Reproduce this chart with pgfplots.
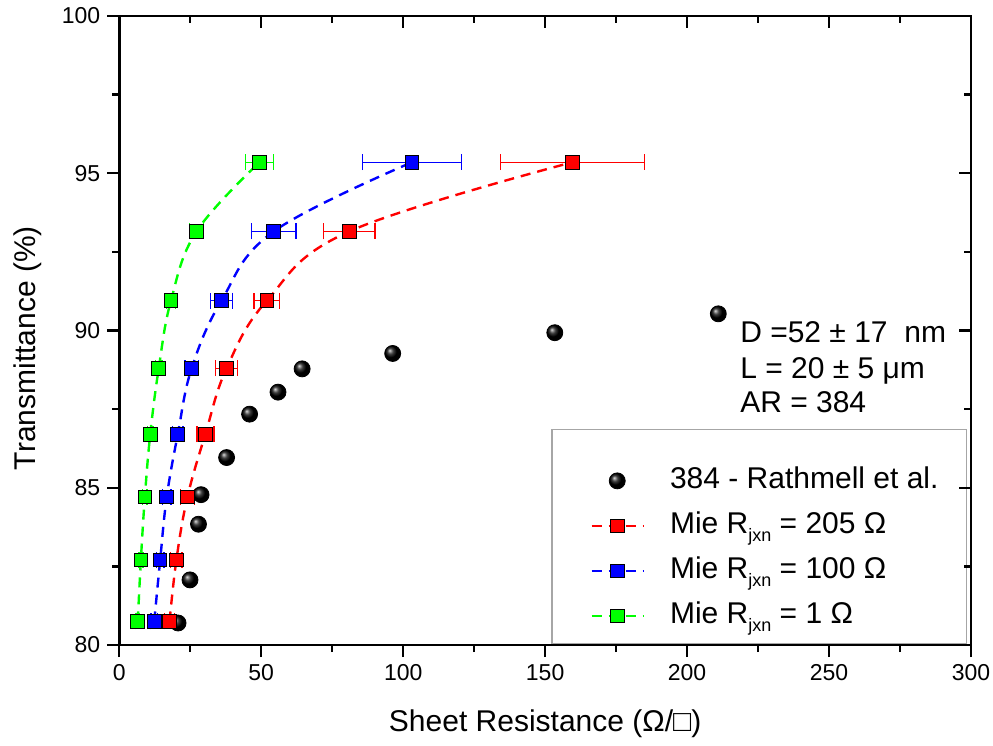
\documentclass[border=0pt]{standalone}
\usepackage{pgfplots}
\pgfplotsset{compat=1.18}
\usepackage{fontspec}
\setmainfont{Liberation Sans}
\definecolor{ored}{RGB}{255,0,0}
\definecolor{oblue}{RGB}{0,0,255}
\definecolor{ogreen}{RGB}{0,255,0}
\pgfdeclareplotmark{ball}{\shade[ball color=black] (0pt,0pt) circle (\pgfplotmarksize);}
\newcommand{\jxn}{\raisebox{-4.2pt}{\fontsize{9}{9}\selectfont jxn}}
\begin{document}
\begin{tikzpicture}
\pgfplotsset{
  common/.style={
    at={(0,0)}, anchor=south west, scale only axis,
    width=425.85pt, height=314.5pt,
    xmin=0, xmax=300, ymin=80, ymax=100,
    xtick={0,50,...,300}, ytick={80,85,...,100},
    minor x tick num=1, minor y tick num=1,
    major tick length=6pt, minor tick length=3.5pt,
    every tick/.style={black, line width=1.2pt},
    axis line style={line width=1.3pt},
  },
  sq/.style={dashed, dash pattern=on 5pt off 3.5pt, line width=1.2pt, smooth, tension=0.65,
    mark=square*, mark size=3.4pt, mark options={solid, draw=black, line width=0.5pt, fill=#1}, color=#1},
  eb/.style={forget plot, only marks, mark=none, color=#1,
    error bars/.cd, x dir=both, x explicit, error mark=|,
    error bar style={line width=0.7pt, solid, color=#1},
    error mark options={line width=0.7pt, mark size=4pt, solid, color=#1}},
}
\begin{axis}[common, name=ax,
  xtick pos=left, ytick pos=left, tick align=outside,
  ticklabel style={font=\fontsize{11.5}{13}\selectfont},
  /pgf/number format/assume math mode=true,
  xlabel={Sheet Resistance (Ω/□)}, ylabel={Transmittance (\%)},
  every axis x label/.style={at={(axis description cs:0.5,0)}, yshift=-39.5pt, anchor=center, font=\fontsize{15}{18}\selectfont},
  every axis y label/.style={at={(axis description cs:-0.108,0.472)}, rotate=90, anchor=center, font=\fontsize{15}{18}\selectfont},
  legend style={at={(axis description cs:0.5527,0.2846)}, anchor=north west, draw=none, fill=none,
    font=\fontsize{15}{18}\selectfont, row sep=8pt, column sep=13pt, inner sep=0pt,
    nodes={inner sep=0pt, text height=11pt, text depth=3.5pt}},
  legend cell align=left,
  legend image code/.code={\draw[mark repeat=2, mark phase=2] plot coordinates {(0cm,0cm) (0.45cm,0cm) (0.9cm,0cm)};},
]
\addplot[only marks, mark=ball, mark size=4pt] coordinates {
(20.7,80.70) (24.9,82.07) (27.9,83.84) (28.8,84.78) (37.8,85.96) (45.9,87.34)
(55.9,88.04) (64.4,88.78) (96.3,89.27) (153.4,89.93) (211.0,90.53)};
\addlegendentry{384 - Rathmell et al.}
% error bars (drawn beneath the squares)
\addplot[eb=ored] coordinates {
(17.7,80.75) +- (1.7,0)
(20.1,82.7) +- (2.0,0)
(24.0,84.7) +- (2.4,0)
(30.3,86.7) +- (3.0,0)
(37.8,88.8) +- (3.9,0)
(52.0,90.95) +- (4.5,0)
(81.0,93.15) +- (9.0,0)
(159.6,95.35) +- (25.4,0)};
\addplot[eb=oblue] coordinates {
(12.3,80.75) +- (1.1,0)
(14.4,82.7) +- (1.3,0)
(16.7,84.7) +- (1.5,0)
(20.6,86.7) +- (1.9,0)
(25.5,88.8) +- (2.4,0)
(36.0,90.95) +- (3.9,0)
(54.4,93.15) +- (7.9,0)
(103.1,95.35) +- (17.5,0)};
\addplot[eb=ogreen] coordinates {
(6.5,80.75) +- (0.6,0)
(7.6,82.7) +- (0.7,0)
(9.0,84.7) +- (0.8,0)
(10.9,86.7) +- (1.0,0)
(13.9,88.8) +- (1.2,0)
(18.2,90.95) +- (1.6,0)
(27.2,93.15) +- (2.4,0)
(49.4,95.35) +- (5.0,0)};
% curves with square markers
\addplot[sq=ored] coordinates {
(17.7,80.75) (20.1,82.7) (24.0,84.7) (30.3,86.7) (37.8,88.8) (52.0,90.95) (81.0,93.15) (159.6,95.35)};
\addlegendentry{Mie R\jxn{} = 205 Ω}
\addplot[sq=oblue] coordinates {
(12.3,80.75) (14.4,82.7) (16.7,84.7) (20.6,86.7) (25.5,88.8) (36.0,90.95) (54.4,93.15) (103.1,95.35)};
\addlegendentry{Mie R\jxn{} = 100 Ω}
\addplot[sq=ogreen] coordinates {
(6.5,80.75) (7.6,82.7) (9.0,84.7) (10.9,86.7) (13.9,88.8) (18.2,90.95) (27.2,93.15) (49.4,95.35)};
\addlegendentry{Mie R\jxn{} = 1 Ω}
\draw[gray!70, line width=0.6pt] (axis description cs:0.508,0.003) rectangle (axis description cs:0.995,0.342);
\node[anchor=base west, inner sep=0pt, font=\fontsize{15}{18}\selectfont] at (axis cs:218.6,89.62) {D =52 ± 17\ \ nm};
\node[anchor=base west, inner sep=0pt, font=\fontsize{15}{18}\selectfont] at (axis cs:218.6,88.46) {L = 20 ± 5 μm};
\node[anchor=base west, inner sep=0pt, font=\fontsize{15}{18}\selectfont] at (axis cs:218.6,87.39) {AR = 384};
\end{axis}
\begin{axis}[common,
  xtick pos=right, ytick pos=right, tick align=inside,
  xticklabels={}, yticklabels={}]
\addplot[draw=none] coordinates {(0,80)};
\end{axis}
\pgfresetboundingbox
\path (ax.south west) ++(-59.65pt,-50.5pt) rectangle ++(496.5pt,373pt);
\end{tikzpicture}
\end{document}
